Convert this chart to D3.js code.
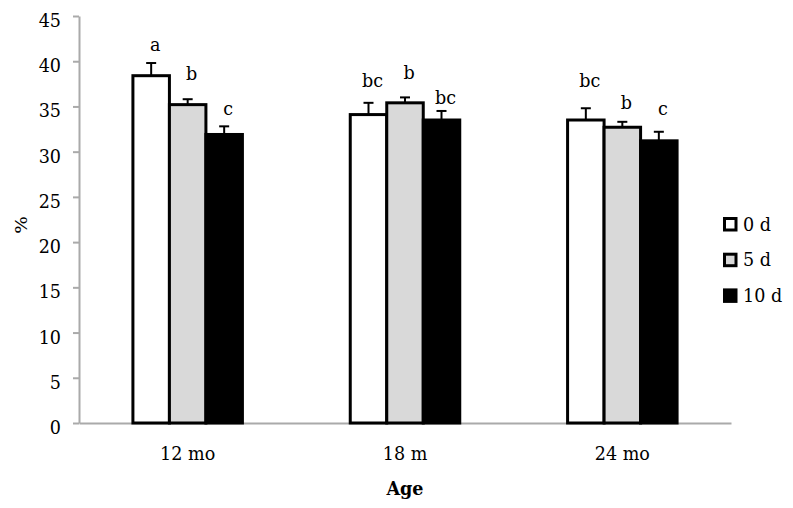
<!DOCTYPE html>
<html>
<head>
<meta charset="utf-8">
<script src="https://cdn.jsdelivr.net/npm/d3@7/dist/d3.min.js"></script>
<style>
  html, body { margin: 0; padding: 0; background: #fff; }
  svg { display: block; }
  text { font-family: "DejaVu Serif", serif; fill: #000; }
</style>
</head>
<body>
<svg id="chart" width="793" height="508"></svg>
<script>
// ---- data ----
const categories = ["12 mo", "18 m", "24 mo"];
const seriesNames = ["0 d", "5 d", "10 d"];
const values0d  = [38.4, 34.1, 33.5];
const values5d  = [35.2, 35.4, 32.7];
const values10d = [31.9, 33.5, 31.2];
const errTop0d  = [39.8, 35.4, 34.8];
const errTop5d  = [35.8, 36.0, 33.3];
const errTop10d = [32.8, 34.5, 32.2];
const letters0d  = ["a", "bc", "bc"];
const letters5d  = ["b", "b", "b"];
const letters10d = ["c", "bc", "c"];
const letterY0d  = [41.1, 37.2, 37.2];
const letterY5d  = [37.9, 38.0, 34.7];
const letterY10d = [34.1, 35.3, 34.1];
const yTicks = [0, 5, 10, 15, 20, 25, 30, 35, 40, 45];
const yLabel = "%";
const xLabel = "Age";

const fills = ["#ffffff", "#d9d9d9", "#000000"];
const FS = "18.5px";
const SX = 0.95; // horizontal text stretch

const seriesVals = [values0d, values5d, values10d];
const seriesErr = [errTop0d, errTop5d, errTop10d];
const seriesLet = [letters0d, letters5d, letters10d];
const seriesLetY = [letterY0d, letterY5d, letterY10d];

const rows = [];
categories.forEach((c, i) => {
  seriesNames.forEach((s, j) => {
    rows.push({cat: c, series: s, j, v: seriesVals[j][i], e: seriesErr[j][i],
               letter: seriesLet[j][i], ly: seriesLetY[j][i]});
  });
});

const svg = d3.select("#chart");
const mLeft = 79, mRight = 731, mTop = 16, mBottom = 423;

const y = d3.scaleLinear().domain([0, 45]).range([mBottom, mTop]);
const x0 = d3.scaleBand().domain(categories).range([mLeft, mRight]).paddingInner(0).paddingOuter(0);
const groupW = 109.5;
const x1 = d3.scaleBand().domain(seriesNames).range([0, groupW]).padding(0);

// axes
const yAxis = d3.axisLeft(y).tickValues(yTicks).tickSize(6).tickSizeOuter(0);
const gy = svg.append("g").attr("transform", `translate(${mLeft},0)`).call(yAxis);
gy.selectAll("path, line").attr("stroke", "#aaaaaa").attr("stroke-width", 2);
gy.selectAll("text")
  .attr("x", -18 / SX).attr("y", 10.5).attr("dy", null)
  .attr("transform", `scale(${SX},1)`)
  .style("font-size", FS).style("font-family", "DejaVu Serif");

const xAxis = d3.axisBottom(x0).tickSize(0).tickSizeOuter(0);
const gx = svg.append("g").attr("transform", `translate(0,${mBottom})`).call(xAxis);
gx.select("path").attr("stroke", "#aaaaaa").attr("stroke-width", 2);
gx.selectAll("text")
  .attr("y", 37).attr("dy", null)
  .attr("transform", `scale(${SX},1)`)
  .style("font-size", FS).style("font-family", "DejaVu Serif");

// bars
const barX = d => x0(d.cat) + x0.bandwidth() / 2 - groupW / 2 + x1(d.series);
const bw = x1.bandwidth();

// error bars
const eg = svg.append("g");
eg.selectAll("line.stem").data(rows).join("line").attr("class", "stem")
  .attr("x1", d => barX(d) + bw / 2).attr("x2", d => barX(d) + bw / 2)
  .attr("y1", d => y(d.v)).attr("y2", d => y(d.e))
  .attr("stroke", "#000").attr("stroke-width", 2);
eg.selectAll("line.cap").data(rows).join("line").attr("class", "cap")
  .attr("x1", d => barX(d) + bw / 2 - 5).attr("x2", d => barX(d) + bw / 2 + 5)
  .attr("y1", d => y(d.e)).attr("y2", d => y(d.e))
  .attr("stroke", "#000").attr("stroke-width", 2);

svg.append("g").selectAll("rect").data(rows).join("rect")
  .attr("x", d => barX(d))
  .attr("y", d => y(d.v))
  .attr("width", bw)
  .attr("height", d => y(0) - y(d.v))
  .attr("fill", d => fills[d.j])
  .attr("stroke", "#000")
  .attr("stroke-width", 3);

// significance letters
svg.append("g").selectAll("g").data(rows).join("g")
  .attr("transform", d => `translate(${barX(d) + bw / 2 + 4},${y(d.ly)})`)
  .append("text")
  .attr("text-anchor", "middle")
  .attr("transform", `scale(${SX},1)`)
  .style("font-size", FS)
  .text(d => d.letter);

// axis titles
svg.append("g").attr("transform", `translate(${(mLeft + mRight) / 2},495)`)
  .append("text").attr("text-anchor", "middle")
  .attr("transform", `scale(${SX},1)`)
  .style("font-size", FS).style("font-weight", "bold")
  .text(xLabel);

svg.append("g").attr("transform", "translate(27,225) rotate(-90)")
  .append("text").attr("text-anchor", "middle")
  .attr("transform", `scale(1,${SX})`)
  .style("font-size", FS)
  .text(yLabel);

// legend
const lg = svg.append("g").selectAll("g").data(seriesNames).join("g")
  .attr("transform", (d, i) => `translate(723,${217 + i * 35.7})`);
lg.append("rect").attr("x", 1.5).attr("y", 1.5).attr("width", 11.5).attr("height", 11.5)
  .attr("fill", (d, i) => fills[i]).attr("stroke", "#000").attr("stroke-width", 3);
lg.append("g").attr("transform", "translate(20,13.5)")
  .append("text")
  .attr("transform", `scale(${SX},1)`)
  .style("font-size", FS)
  .text(d => d);
</script>
</body>
</html>
